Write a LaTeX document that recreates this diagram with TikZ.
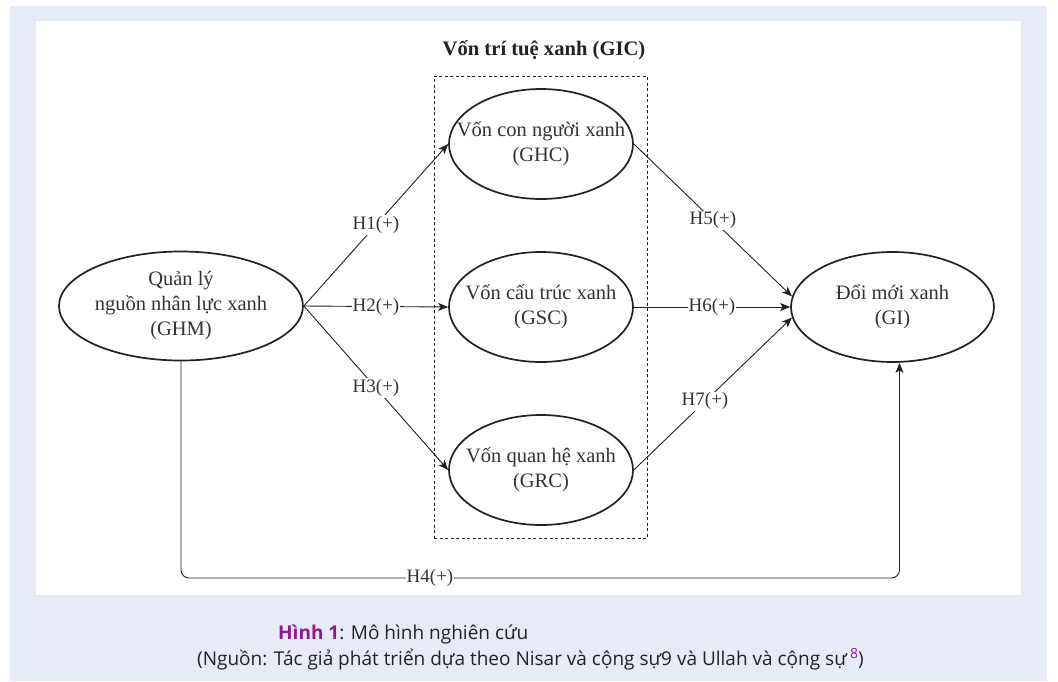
\documentclass[tikz,border=0pt]{standalone}
\usepackage{fontspec}
\setmainfont{Liberation Serif}
\newfontfamily\capfont{Open Sans}
\usetikzlibrary{arrows.meta,shapes.geometric,calc}
\definecolor{pagebg}{HTML}{E6EBF5}
\definecolor{capurple}{HTML}{8E1A90}
\definecolor{ink}{HTML}{222222}
\definecolor{txtgray}{HTML}{333333}
\begin{document}
\begin{tikzpicture}[x=1pt,y=-1pt,
  ell/.style={ellipse,draw=ink,line width=1.7pt,inner sep=0pt},
  etxt/.style={align=center,inner sep=0pt,font=\fontsize{20.5}{25}\selectfont,text=txtgray},
  conn/.style={draw=ink,line width=0.9pt,-{Stealth[length=10pt,width=8pt,inset=2.5pt]}},
  lbl/.style={fill=white,inner sep=1pt,font=\fontsize{19}{23}\selectfont,text=txtgray},
  capt/.style={anchor=base west,inner sep=0pt,font=\capfont\fontsize{19}{23}\selectfont,text=ink}]
\useasboundingbox (0,0) rectangle (1058,681);
\fill[white] (0,0) rectangle (1058,681);
\fill[pagebg] (10,6) rectangle (1047,681);
\fill[white] (36,21) rectangle (1021,595);
% title and dashed group
\node[font=\bfseries\fontsize{20.6}{25}\selectfont,text=ink] (title) at (544,50) {Vốn trí tuệ xanh (GIC)};
\node[draw=ink,line width=0.9pt,dash pattern=on 3pt off 2.5pt,minimum width=213pt,minimum height=462pt,inner sep=0pt] (gicbox) at (540.5,307) {};
% ellipses
\node[ell,minimum width=244pt,minimum height=109pt] (GHM) at (181,306) {};
\node[ell,minimum width=184pt,minimum height=110pt] (GHC) at (541,144) {};
\node[ell,minimum width=184pt,minimum height=110pt] (GSC) at (541,307) {};
\node[ell,minimum width=184pt,minimum height=110pt] (GRC) at (541,470) {};
\node[ell,minimum width=203pt,minimum height=110pt] (GI) at (892.5,307) {};
\node[etxt] (GHMt) at (GHM) {Quản lý\\nguồn nhân lực xanh\\(GHM)};
\node[etxt] (GHCt) at (GHC) {Vốn con người xanh\\(GHC)};
\node[etxt] (GSCt) at (GSC) {Vốn cấu trúc xanh\\(GSC)};
\node[etxt] (GRCt) at (GRC) {Vốn quan hệ xanh\\(GRC)};
\node[etxt] (GIt) at (GI) {Đổi mới xanh\\(GI)};
% connectors
\draw[conn] (GHM.east) -- node[lbl,midway] {H1(+)} (GHC.west);
\draw[conn] (GHM.east) -- node[lbl,midway,inner sep=0.5pt] {H2(+)} (GSC.west);
\draw[conn] (GHM.east) -- node[lbl,midway] {H3(+)} (GRC.west);
\draw[conn] (GHC.east) -- node[lbl,midway] {H5(+)} (GI.174);
\draw[conn] (GSC.east) -- node[lbl,midway,inner sep=0.5pt] {H6(+)} (GI.west);
\draw[conn] (GRC.east) -- node[lbl,pos=0.45] {H7(+)} (GI.186);
\draw[conn] (GHM.south) [rounded corners=8pt] |- ([xshift=7pt]GI.south |- 0,578) [sharp corners] -- ([xshift=7pt]GI.south);
\node[lbl,inner sep=0.5pt] (h4) at (430,578) {H4(+)};
% caption
\node[capt] (cap1) at (278,639) {\textcolor{capurple}{\textbf{Hình 1}}: Mô hình nghiên cứu};
\node[capt] (cap2) at (197,665) {(Nguồn: Tác giả phát triển dựa theo Nisar và cộng sự9 và Ullah và cộng sự\,\raisebox{7pt}{\fontsize{14}{14}\selectfont\textcolor{capurple}{8}})};
\end{tikzpicture}
\end{document}
